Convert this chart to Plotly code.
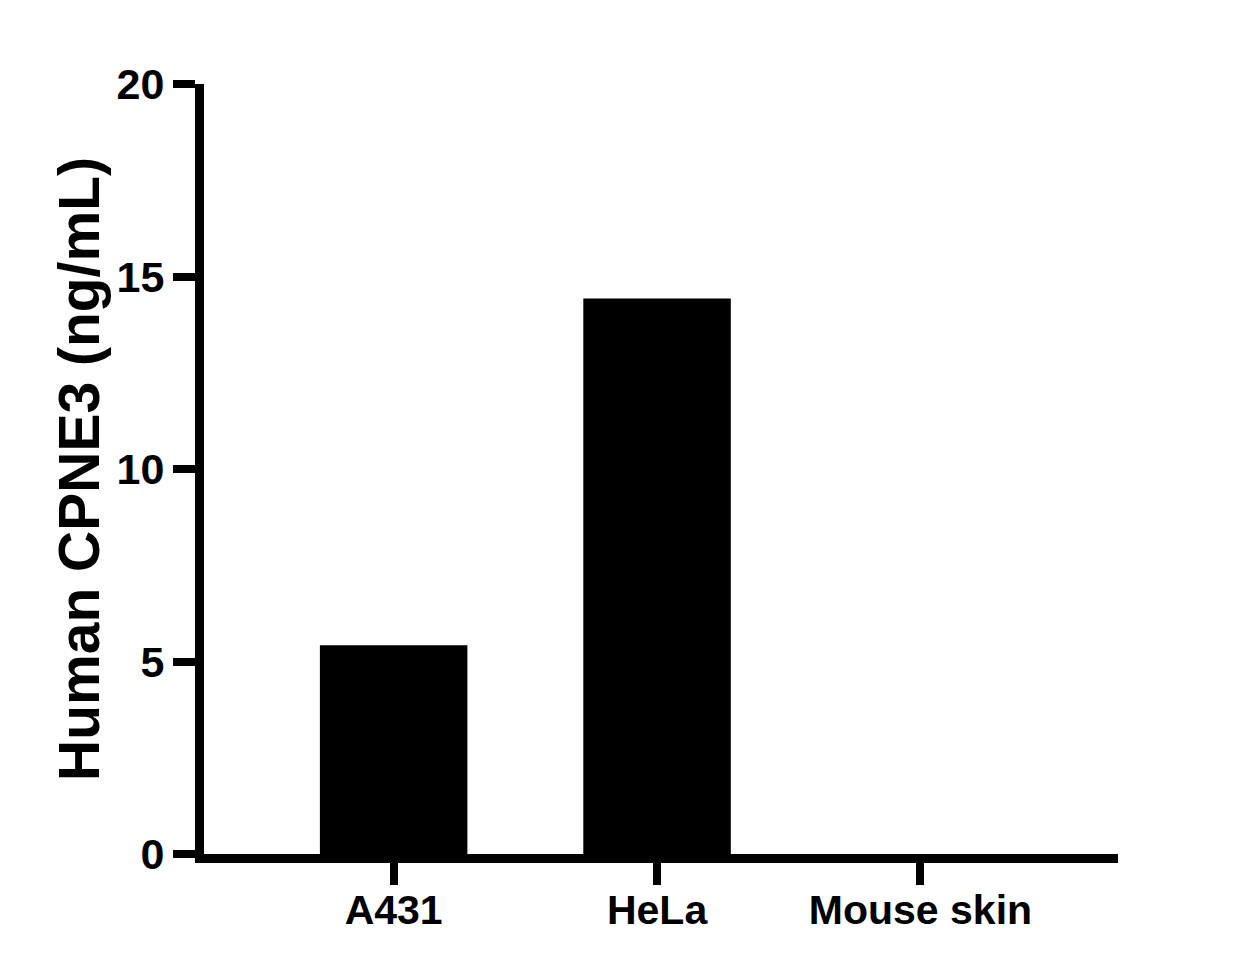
import plotly.graph_objects as go

# data
categories = ["A431", "HeLa", "Mouse skin"]
values = [5.42, 14.43, 0.0]
y_ticks = [0, 5, 10, 15, 20]

font_family = "Liberation Sans, Arial, sans-serif"

fig = go.Figure()
fig.add_trace(go.Bar(x=categories, y=values, width=0.56,
                     marker=dict(color="black", line=dict(width=0)),
                     showlegend=False))

fig.update_layout(
    width=1249, height=972,
    margin=dict(l=196, r=139, t=76, b=126),
    plot_bgcolor="white", paper_bgcolor="white",
    font=dict(family=font_family, color="black"),
)

fig.update_xaxes(
    range=[-0.72, 2.75],
    showline=True, linewidth=9, linecolor="black",
    ticks="outside", ticklen=22, tickwidth=8, tickcolor="black",
    tickfont=dict(size=41, weight="bold"), ticklabelstandoff=-10,
    showgrid=False, zeroline=False,
)

fig.update_yaxes(
    range=[0, 20], tickvals=y_ticks,
    showline=True, linewidth=9, linecolor="black",
    ticks="outside", ticklen=22, tickwidth=8, tickcolor="black",
    tickfont=dict(size=43, weight="bold"),
    showgrid=False, zeroline=False,
    title=dict(text="Human CPNE3 (ng/mL)", font=dict(size=57, weight="bold"), standoff=2),
)

fig.write_html("out.html")
